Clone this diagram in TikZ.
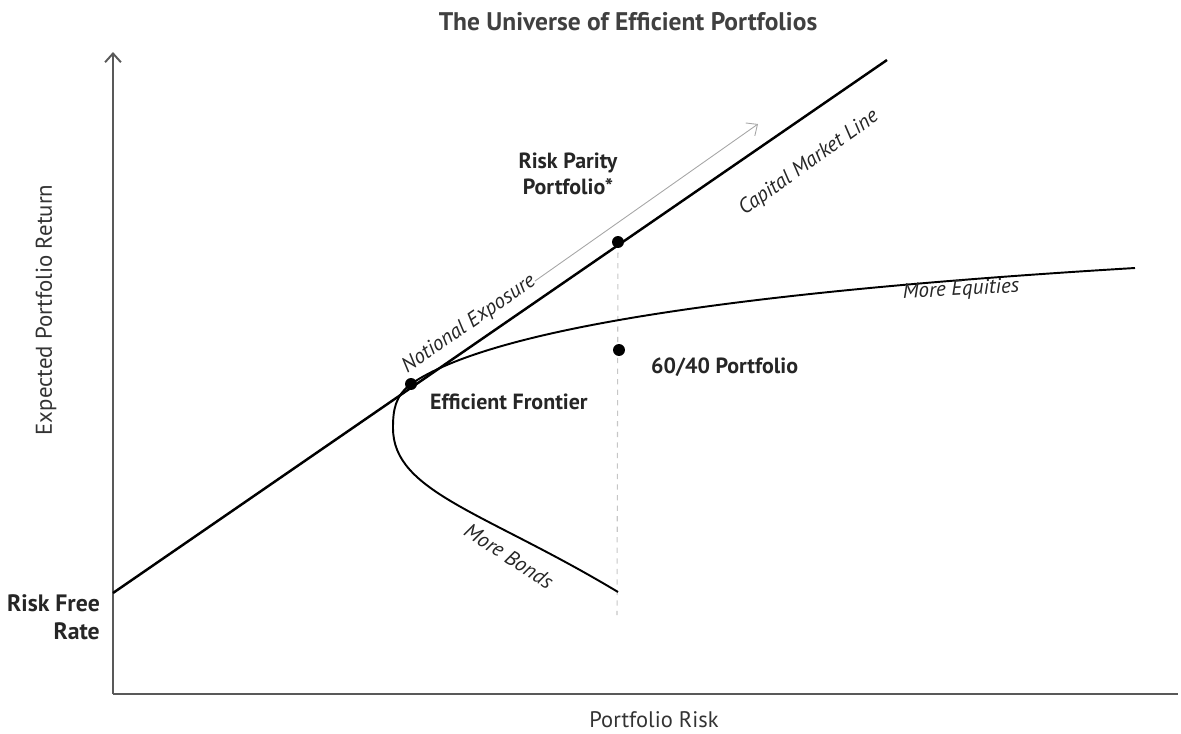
\documentclass[tikz,border=0pt]{standalone}
\usepackage{fontspec}
\setmainfont{PT Sans}
\usetikzlibrary{arrows.meta}

\begin{document}
\begin{tikzpicture}[x=0.02cm,y=-0.02cm,>={Straight Barb[length=5pt,width=9pt]},
    axis/.style={draw=black!65,line width=1.1pt},
    cml/.style={line width=1.4pt},
    frontier/.style={line width=1.1pt},
    dot/.style={circle,fill=black,inner sep=0pt,minimum size=6.8pt},
    lbl/.style={text=black!85,font=\bfseries\fontsize{12.5}{14.7}\selectfont},
    note/.style={text=black!85,font=\itshape\fontsize{12}{14}\selectfont},
    ]
\useasboundingbox (0,0) rectangle (1181,734);
\coordinate (origin) at (113,694);
\coordinate (ytip) at (113,52);
\coordinate (xend) at (1178,694);
\coordinate (rf) at (113,593);
\coordinate (cmlend) at (887,60);
\coordinate (vertex) at (393,428);
\coordinate (bondend) at (618,592);
\coordinate (eqend) at (1135,268);
\coordinate (nstart) at (535,281);
\coordinate (ntip) at (758,124);
\coordinate (dashend) at (617,615);
\coordinate (tangpt) at (411,384);
\coordinate (rppt) at (618,242);
\coordinate (sixtypt) at (619,350);

\draw[gray!45,dashed,line width=0.6pt] (rppt) -- (dashend);
\draw[axis,->] (origin) -- (ytip);
\draw[axis] (origin) -- (xend);
\draw[cml] (rf) -- (cmlend);
\draw[frontier] (bondend) .. controls (485,512) and (393,492) .. (vertex)
    .. controls (393,410) and (395,396) .. (tangpt)
    .. controls (491,329) and (735,292) .. (eqend);
\draw[->,gray!70,line width=0.5pt] (nstart) -- (ntip);
\node[dot] (tang) at (tangpt) {};
\node[dot] (rp) at (rppt) {};
\node[dot] (sixty) at (sixtypt) {};

\node[lbl,text=black!75,font=\bfseries\fontsize{14.5}{17}\selectfont] (title) at (628,22) {The Universe of Efficient Portfolios};
\node[text=black!80,font=\fontsize{13}{15}\selectfont,rotate=90] (ylab) at (46,310) {Expected Portfolio Return};
\node[text=black!80,font=\fontsize{12.8}{15}\selectfont] (xlab) at (654,720) {Portfolio Risk};
\node[lbl,font=\bfseries\fontsize{13.5}{15.9}\selectfont,align=right,anchor=east] (rflab) at (106,617) {Risk Free\\Rate};
\node[lbl,align=center] (rplab) at (568,174) {Risk Parity\\Portfolio*};
\node[lbl,anchor=west] (sixtylab) at (645,367) {60/40 Portfolio};
\node[lbl,anchor=west] (eflab) at (424,402) {Efficient Frontier};
\node[note,rotate=34.6] (nlab) at (469,324) {Notional Exposure};
\node[note,rotate=35.5] (cmllab) at (809,163) {Capital Market Line};
\node[note,rotate=3] (eqlab) at (961,290) {More Equities};
\node[note,rotate=-33] (bondlab) at (509,556) {More Bonds};
\end{tikzpicture}
\end{document}
